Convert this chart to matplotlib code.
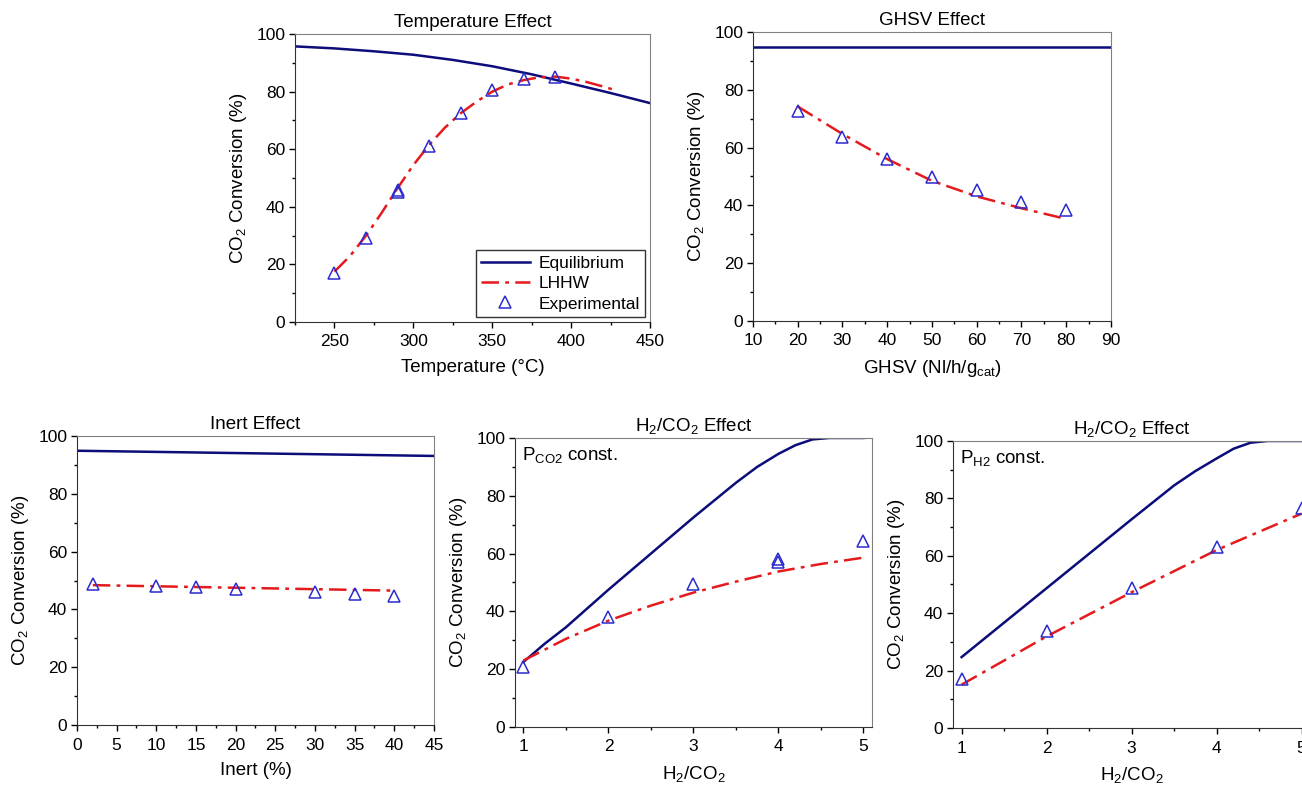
import matplotlib
matplotlib.use('Agg')
import matplotlib.pyplot as plt
from matplotlib.ticker import MultipleLocator

plt.rcParams['font.family'] = ['Liberation Sans', 'DejaVu Sans']
plt.rcParams['mathtext.fontset'] = 'custom'
plt.rcParams['mathtext.rm'] = 'Liberation Sans'
plt.rcParams['mathtext.it'] = 'Liberation Sans:italic'
plt.rcParams['mathtext.bf'] = 'Liberation Sans:bold'

# 1. Temperature effect
temp_eq_x = [225, 250, 275, 300, 325, 350, 375, 400, 425, 450]
temp_eq_y = [95.7, 95.0, 94.0, 92.8, 91.0, 88.8, 86.0, 82.8, 79.5, 76.0]
temp_lhhw_x = [250, 260, 270, 280, 290, 300, 310, 320, 330, 340, 350, 360, 370, 380, 390, 400, 410, 420, 428]
temp_lhhw_y = [17.5, 23, 30, 38, 46.5, 54.5, 61.5, 67.5, 72.5, 76.5, 80, 82.5, 84, 85, 85.2, 84.5, 83.3, 81.8, 80.5]
temp_exp_x = [250, 270, 290, 290, 310, 330, 350, 370, 390]
temp_exp_y = [17, 29, 45, 46, 61, 72.5, 80.5, 84.3, 85]

# 2. GHSV effect
ghsv_eq_x = [10, 90]
ghsv_eq_y = [94.9, 94.9]
ghsv_lhhw_x = [20, 30, 40, 50, 60, 70, 80]
ghsv_lhhw_y = [74.2, 64.7, 56.0, 48.5, 43.1, 39.0, 35.3]
ghsv_exp_x = [20, 30, 40, 50, 60, 70, 80]
ghsv_exp_y = [72.5, 63.6, 56.1, 49.7, 45.2, 41.3, 38.5]

# 3. Inert effect
inert_eq_x = [0, 45]
inert_eq_y = [94.9, 93.1]
inert_lhhw_x = [2, 40]
inert_lhhw_y = [48.4, 46.5]
inert_exp_x = [2, 10, 15, 20, 30, 35, 40]
inert_exp_y = [48.8, 48.1, 47.8, 47.1, 45.9, 45.3, 44.8]

# 4. H2/CO2 effect, P_CO2 const.
pco2_eq_x = [1, 1.25, 1.5, 1.75, 2, 2.5, 3, 3.5, 3.75, 4, 4.2, 4.4, 4.6, 5]
pco2_eq_y = [22.5, 28.8, 34.5, 41, 47.5, 60, 72.5, 84.5, 90, 94.5, 97.5, 99.5, 100, 100]
pco2_lhhw_x = [1, 1.5, 2, 2.5, 3, 3.5, 4, 4.5, 5]
pco2_lhhw_y = [23, 30.5, 36.8, 42, 46.5, 50.3, 53.8, 56.4, 58.6]
pco2_exp_x = [1, 2, 3, 4, 4, 5]
pco2_exp_y = [20.8, 38.2, 49.4, 57.2, 58.0, 64.4]

# 5. H2/CO2 effect, P_H2 const.
ph2_eq_x = [1, 2, 3, 3.5, 3.75, 4, 4.2, 4.4, 4.6, 5]
ph2_eq_y = [24.7, 48.7, 72.7, 84.5, 89.5, 93.9, 97.3, 99.4, 100, 100]
ph2_lhhw_x = [1, 2, 3, 4, 5]
ph2_lhhw_y = [15.1, 31.9, 47.3, 62, 74.7]
ph2_exp_x = [1, 2, 3, 4, 5]
ph2_exp_y = [17, 33.8, 48.9, 63.2, 76.5]

eq_color = '#0c0c7a'
lhhw_color = '#e41a1c'
exp_color = '#2b2bd0'
ylab = 'CO$_2$ Conversion (%)'

fig = plt.figure(figsize=(13.02, 7.89), dpi=100)


def make_axes(rect, xlim, xmajor, xminor, xlabel, title):
    ax = fig.add_axes(rect)
    ax.set_xlim(*xlim)
    ax.set_ylim(0, 100)
    ax.xaxis.set_major_locator(MultipleLocator(xmajor))
    ax.xaxis.set_minor_locator(MultipleLocator(xminor))
    ax.yaxis.set_major_locator(MultipleLocator(20))
    ax.yaxis.set_minor_locator(MultipleLocator(10))
    ax.tick_params(which='major', direction='out', length=4, width=1, labelsize=12.5)
    ax.tick_params(which='minor', direction='out', length=2.5, width=1)
    ax.tick_params(axis='x', which='major', pad=5)
    ax.tick_params(axis='y', which='major', pad=3)
    for s in ['left', 'bottom']:
        ax.spines[s].set_color('#333333')
    for s in ['top', 'right']:
        ax.spines[s].set_color('#808080')
    ax.set_xlabel(xlabel, fontsize=13.5, labelpad=7)
    ax.set_ylabel(ylab, fontsize=13.5, labelpad=5)
    ax.set_title(title, fontsize=13.5, pad=5)
    return ax


def draw(ax, ex, ey, lx, ly, px, py):
    ax.plot(ex, ey, color=eq_color, lw=1.8, label='Equilibrium')
    ax.plot(lx, ly, color=lhhw_color, lw=1.8, ls=(0, (7, 2.5, 1.5, 2.5)), label='LHHW')
    ax.plot(px, py, ls='none', marker='^', ms=8, mfc='none', mec=exp_color, mew=1.1,
            label='Experimental', clip_on=False)


ax1 = make_axes([0.2266, 0.5919, 0.2727, 0.365], (225, 450), 50, 25,
                'Temperature (°C)', 'Temperature Effect')
draw(ax1, temp_eq_x, temp_eq_y, temp_lhhw_x, temp_lhhw_y, temp_exp_x, temp_exp_y)
leg = ax1.legend(loc='lower right', fontsize=12.5, frameon=True, fancybox=False,
                 edgecolor='black', handlelength=2.8, borderaxespad=0.3,
                 labelspacing=0.3, borderpad=0.3, handletextpad=0.5)
leg.get_frame().set_linewidth(1.0)

ax2 = make_axes([0.5783, 0.5932, 0.275, 0.3663], (10, 90), 10, 5,
                'GHSV (Nl/h/g$_{\\mathrm{cat}}$)', 'GHSV Effect')
draw(ax2, ghsv_eq_x, ghsv_eq_y, ghsv_lhhw_x, ghsv_lhhw_y, ghsv_exp_x, ghsv_exp_y)

ax3 = make_axes([0.0591, 0.0811, 0.2742, 0.3663], (0, 45), 5, 2.5,
                'Inert (%)', 'Inert Effect')
draw(ax3, inert_eq_x, inert_eq_y, inert_lhhw_x, inert_lhhw_y, inert_exp_x, inert_exp_y)

ax4 = make_axes([0.3955, 0.0786, 0.2742, 0.3663], (0.9, 5.1), 1, 0.5,
                'H$_2$/CO$_2$', 'H$_2$/CO$_2$ Effect')
draw(ax4, pco2_eq_x, pco2_eq_y, pco2_lhhw_x, pco2_lhhw_y, pco2_exp_x, pco2_exp_y)
ax4.text(0.02, 0.975, 'P$_{\\mathrm{CO2}}$ const.', transform=ax4.transAxes,
         fontsize=13.5, va='top', ha='left')

ax5 = make_axes([0.732, 0.0773, 0.2742, 0.3638], (0.9, 5.1), 1, 0.5,
                'H$_2$/CO$_2$', 'H$_2$/CO$_2$ Effect')
draw(ax5, ph2_eq_x, ph2_eq_y, ph2_lhhw_x, ph2_lhhw_y, ph2_exp_x, ph2_exp_y)
ax5.text(0.02, 0.975, 'P$_{\\mathrm{H2}}$ const.', transform=ax5.transAxes,
         fontsize=13.5, va='top', ha='left')

fig.savefig('out.png', dpi=100)
